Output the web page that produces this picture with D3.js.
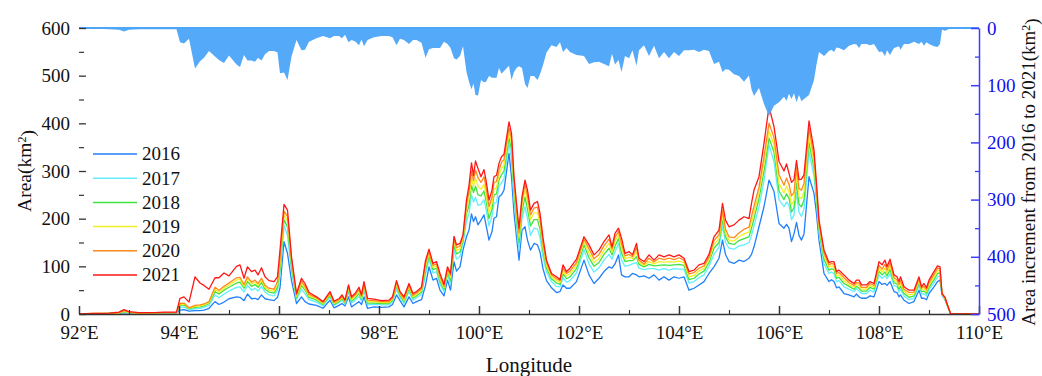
<!DOCTYPE html>
<html>
<head>
<meta charset="utf-8">
<script src="https://cdn.jsdelivr.net/npm/d3@7"></script>
<style>
  body { margin: 0; background: #fff; }
  svg text { font-family: 'Liberation Serif', 'Times New Roman', Times, serif; }
</style>
</head>
<body>
<svg id="chart"></svg>
<script>
const graphWidth = 1042;
const graphHeight = 376;
const serif = "'Liberation Serif', 'Times New Roman', Times, serif";

// Longitude of each sample point (degrees E)
const lon = [
  92.0, 92.3, 92.6, 92.8, 92.9, 93.0, 93.2, 93.5, 93.7, 93.95,
  94.02, 94.1, 94.2, 94.32, 94.42, 94.5, 94.6, 94.72, 94.8, 94.9, 95.0,
  95.15, 95.22, 95.3, 95.37, 95.45, 95.52, 95.58, 95.65, 95.72, 95.8, 95.9, 95.97,
  96.02, 96.1, 96.17, 96.25, 96.35, 96.45, 96.52, 96.6, 96.75, 96.88, 97.02,
  97.1, 97.2, 97.26, 97.32, 97.39, 97.45, 97.52, 97.6, 97.65, 97.7, 97.77, 97.9,
  98.05, 98.2, 98.27, 98.35, 98.42, 98.5, 98.6, 98.68, 98.75, 98.85, 98.93,
  99.0, 99.08, 99.15, 99.22, 99.3, 99.37, 99.43, 99.5, 99.55, 99.62, 99.68, 99.75, 99.8,
  99.85, 99.89, 99.93, 99.98, 100.04, 100.1, 100.14, 100.2, 100.26, 100.3, 100.35, 100.4, 100.45, 100.5,
  100.6, 100.65, 100.7, 100.75, 100.8, 100.86, 100.92, 100.97, 101.03, 101.1, 101.17, 101.22, 101.28,
  101.35, 101.45, 101.55, 101.62, 101.68, 101.75, 101.82, 101.95, 102.1,
  102.2, 102.3, 102.4, 102.5, 102.6, 102.66, 102.72, 102.79, 102.85, 102.92, 103.0,
  103.07, 103.15, 103.2, 103.3, 103.4, 103.5, 103.6, 103.7, 103.8, 103.9, 104.0,
  104.1, 104.2, 104.3, 104.4, 104.5, 104.6, 104.7, 104.8, 104.87, 104.93,
  105.0, 105.1, 105.2, 105.3, 105.4, 105.45, 105.5, 105.6, 105.7, 105.8, 105.9,
  106.0, 106.1, 106.15, 106.2, 106.25, 106.3, 106.35, 106.4, 106.45, 106.5,
  106.6, 106.7, 106.75, 106.8, 106.9, 107.0, 107.05, 107.1, 107.15, 107.2,
  107.3, 107.4, 107.5, 107.55, 107.6, 107.65, 107.75, 107.82, 107.9, 108.0, 108.06,
  108.12, 108.16, 108.22, 108.3, 108.36, 108.4, 108.43, 108.5, 108.6, 108.7, 108.8, 108.85,
  108.9, 108.95, 109.0, 109.1, 109.17, 109.22, 109.26, 109.32, 109.37, 109.43, 109.5, 110.0
];

// Area (km2) per year, same order as lon
const area2016 = [
  0, 0, 0, 1, 3, 2, 1, 1, 2, 2,
  8, 9, 6, 7, 7, 8, 12, 26, 20, 25, 32,
  36, 35, 28, 42, 32, 33, 30, 40, 32, 30, 28, 35,
  55, 152, 127, 70, 22, 36, 26, 21, 18, 12, 29,
  13, 18, 22, 17, 36, 15, 20, 26, 20, 36, 12, 15,
  14, 15, 20, 40, 28, 15, 36, 22, 26, 30, 60,
  99, 71, 75, 50, 38, 71, 50, 110, 90, 99, 134, 162, 176,
  210, 194, 204, 187, 197, 208, 187, 155, 173, 201, 204, 246, 250, 260,
  337, 288, 211, 162, 113, 176, 183, 155, 134, 148, 145, 130, 95,
  70, 55, 45, 47, 61, 54, 54, 68, 113,
  82, 64, 75, 89, 99, 96, 105, 124, 82, 78, 78,
  85, 82, 78, 80, 75, 82, 71, 78, 71, 78, 75,
  78, 50, 54, 61, 68, 85, 99, 117, 155, 125,
  110, 106, 113, 110, 117, 125, 141, 183, 225, 281, 257,
  190, 180, 188, 180, 152, 168, 192, 165, 155, 168,
  288, 253, 210, 155, 85, 68, 72, 68, 55, 57,
  43, 40, 36, 42, 36, 33, 33, 38, 36, 68, 62,
  64, 60, 68, 47, 45, 36, 40, 29, 22, 26, 50, 33,
  33, 30, 43, 57, 68, 71, 40, 30, 16, 1, 0, 0
];
const area2017 = [
  0, 0, 1, 2, 4, 2, 1, 2, 2, 2,
  14, 15, 9, 11, 12, 14, 18, 40, 34, 42, 48,
  56, 57, 46, 60, 50, 54, 48, 58, 46, 40, 38, 50,
  80, 185, 165, 90, 30, 52, 42, 30, 25, 17, 36,
  18, 24, 29, 21, 46, 23, 28, 37, 27, 49, 19, 20,
  19, 19, 26, 52, 35, 22, 47, 29, 34, 41, 82,
  115, 86, 89, 62, 47, 83, 63, 135, 115, 120, 148, 195, 210,
  250, 235, 245, 228, 230, 240, 220, 185, 205, 232, 235, 268, 275, 284,
  358, 325, 240, 185, 135, 200, 225, 200, 165, 180, 178, 160, 120,
  88, 68, 58, 57, 76, 67, 70, 86, 135,
  105, 88, 97, 113, 125, 115, 130, 148, 113, 100, 102,
  105, 108, 96, 93, 95, 95, 92, 95, 92, 95, 94,
  94, 65, 68, 76, 82, 100, 125, 140, 185, 150,
  138, 136, 143, 145, 150, 165, 185, 225, 280, 355, 320,
  240, 225, 235, 228, 198, 208, 255, 213, 205, 220,
  340, 290, 235, 170, 105, 85, 88, 85, 68, 70,
  57, 52, 47, 53, 48, 43, 43, 50, 46, 82, 75,
  80, 74, 85, 60, 57, 46, 52, 38, 30, 33, 60, 42,
  42, 38, 51, 66, 78, 80, 41, 31, 17, 1, 0, 0
];
const area2018 = [
  0, 0, 1, 2, 5, 3, 2, 2, 3, 3,
  18, 19, 11, 14, 15, 17, 22, 47, 42, 50, 56,
  65, 67, 54, 68, 58, 62, 56, 66, 52, 46, 44, 56,
  95, 198, 182, 100, 34, 60, 50, 35, 29, 20, 39,
  20, 26, 32, 23, 51, 27, 33, 43, 31, 56, 23, 23,
  22, 22, 29, 58, 39, 26, 53, 33, 38, 46, 92,
  122, 93, 96, 68, 52, 88, 70, 145, 126, 130, 154, 210, 228,
  270, 255, 268, 250, 248, 258, 238, 200, 220, 250, 252, 282, 292, 300,
  370, 345, 258, 200, 150, 215, 245, 220, 185, 198, 198, 178, 132,
  96, 74, 65, 62, 84, 74, 78, 95, 145,
  118, 100, 108, 125, 138, 124, 142, 158, 128, 110, 112,
  112, 120, 104, 99, 104, 101, 102, 103, 102, 103, 104,
  102, 72, 75, 84, 90, 108, 138, 150, 198, 162,
  148, 146, 154, 158, 162, 180, 200, 242, 300, 369, 340,
  258, 240, 252, 243, 214, 223, 275, 230, 225, 240,
  360, 305, 245, 178, 115, 92, 95, 93, 75, 77,
  64, 58, 52, 58, 54, 48, 48, 56, 52, 90, 82,
  88, 80, 94, 66, 63, 52, 58, 43, 35, 38, 65, 47,
  48, 43, 56, 72, 85, 86, 42, 32, 18, 1, 0, 0
];
const area2019 = [
  0, 1, 1, 2, 6, 3, 2, 2, 3, 3,
  20, 21, 12, 16, 17, 19, 24, 52, 46, 54, 61,
  71, 73, 58, 74, 63, 67, 60, 71, 56, 50, 48, 62,
  105, 208, 195, 108, 37, 65, 54, 38, 32, 22, 42,
  22, 28, 35, 25, 55, 30, 37, 47, 34, 60, 26, 26,
  24, 24, 31, 62, 42, 29, 57, 36, 41, 50, 100,
  127, 98, 101, 73, 55, 92, 76, 152, 133, 137, 158, 220, 242,
  285, 268, 285, 268, 262, 272, 252, 212, 232, 262, 265, 292, 305, 312,
  380, 358, 268, 212, 160, 228, 260, 235, 198, 212, 212, 190, 140,
  102, 78, 70, 66, 90, 80, 84, 102, 152,
  128, 108, 116, 134, 148, 130, 152, 166, 138, 116, 119,
  116, 130, 109, 102, 110, 105, 110, 109, 110, 109, 111,
  108, 78, 81, 90, 96, 114, 146, 158, 208, 170,
  155, 153, 162, 168, 172, 192, 212, 255, 315, 385, 355,
  274, 254, 268, 257, 230, 238, 292, 246, 242, 257,
  375, 318, 255, 184, 122, 98, 101, 99, 80, 82,
  70, 62, 56, 62, 60, 52, 52, 60, 56, 96, 88,
  96, 86, 101, 71, 68, 57, 64, 48, 40, 42, 70, 51,
  53, 47, 61, 78, 91, 91, 42, 33, 18, 1, 0, 0
];
const area2020 = [
  0, 1, 1, 3, 7, 4, 2, 3, 3, 3,
  22, 23, 13, 18, 19, 21, 26, 56, 50, 58, 65,
  76, 77, 62, 78, 67, 71, 64, 75, 60, 54, 52, 68,
  115, 216, 205, 114, 40, 70, 58, 41, 34, 24, 44,
  24, 30, 37, 27, 58, 33, 40, 51, 37, 64, 29, 28,
  26, 26, 33, 66, 44, 32, 60, 39, 44, 53, 106,
  131, 102, 105, 78, 58, 95, 81, 158, 139, 143, 162, 230, 256,
  300, 280, 302, 286, 276, 288, 266, 225, 245, 276, 278, 302, 318, 324,
  390, 368, 278, 222, 170, 238, 272, 248, 208, 222, 224, 200, 148,
  108, 82, 74, 70, 96, 85, 90, 108, 157,
  137, 116, 125, 143, 157, 136, 161, 173, 148, 122, 125,
  120, 139, 113, 105, 117, 109, 117, 114, 117, 114, 118,
  113, 84, 87, 96, 101, 119, 154, 166, 218, 178,
  162, 160, 170, 178, 182, 205, 226, 266, 330, 400, 370,
  292, 270, 285, 272, 248, 255, 307, 263, 260, 274,
  390, 330, 265, 190, 128, 103, 106, 104, 85, 87,
  76, 66, 60, 66, 65, 56, 56, 64, 60, 102, 94,
  104, 92, 108, 76, 72, 62, 70, 52, 45, 46, 74, 54,
  58, 51, 66, 83, 96, 95, 43, 34, 19, 1, 0, 0
];
const area2021 = [
  0, 1, 2, 4, 9, 5, 3, 3, 4, 4,
  33, 36, 25, 78, 65, 60, 52, 76, 76, 86, 80,
  100, 103, 75, 99, 89, 92, 82, 97, 78, 70, 68, 78,
  134, 230, 218, 120, 43, 75, 64, 45, 36, 26, 47,
  27, 32, 40, 29, 61, 36, 43, 56, 40, 68, 33, 31,
  28, 29, 36, 70, 47, 36, 64, 43, 47, 56, 112,
  136, 106, 110, 85, 62, 99, 85, 163, 145, 148, 166, 239, 270,
  317, 291, 321, 305, 288, 303, 281, 239, 260, 288, 291, 316, 330, 335,
  403, 379, 288, 232, 180, 246, 281, 260, 218, 232, 236, 211, 160,
  113, 85, 78, 72, 103, 89, 96, 115, 162,
  145, 124, 134, 152, 166, 141, 169, 180, 159, 127, 131,
  124, 148, 117, 110, 124, 113, 124, 120, 124, 120, 124,
  117, 89, 92, 103, 106, 125, 162, 176, 232, 197,
  183, 187, 197, 204, 200, 232, 260, 288, 358, 435, 393,
  320, 300, 315, 295, 276, 282, 322, 282, 283, 292,
  405, 344, 274, 197, 134, 108, 110, 110, 89, 92,
  82, 71, 64, 71, 71, 61, 61, 68, 64, 110, 103,
  113, 99, 115, 82, 78, 68, 78, 57, 50, 50, 78, 57,
  64, 55, 71, 89, 101, 99, 43, 35, 19, 1, 0, 0
];

const years = ['2016', '2017', '2018', '2019', '2020', '2021'];
const series = [area2016, area2017, area2018, area2019, area2020, area2021];
const colors = ['#2180fb', '#62eefc', '#3fe33f', '#f2ef24', '#ff8a1c', '#ff1616'];

const xTicks = [92, 94, 96, 98, 100, 102, 104, 106, 108, 110];
const xMinorTicks = [93, 95, 97, 99, 101, 103, 105, 107, 109];
const leftTicks = [0, 100, 200, 300, 400, 500, 600];
const leftMinorTicks = [50, 150, 250, 350, 450, 550];
const rightTicks = [0, 100, 200, 300, 400, 500];
const rightMinorTicks = [50, 150, 250, 350, 450];

const margin = { left: 79, right: 63, top: 28, bottom: 62 };
const axisBlue = '#3d3dff';
const textBlue = '#1010f0';

const svg = d3
  .select('#chart')
  .attr('width', graphWidth)
  .attr('height', graphHeight)
  .attr('font-family', serif);

svg.append('rect')
  .attr('width', graphWidth)
  .attr('height', graphHeight)
  .attr('fill', '#fff');

const x = d3.scaleLinear().domain([92, 110]).range([margin.left, graphWidth - margin.right]);
const y = d3.scaleLinear().domain([0, 600]).range([graphHeight - margin.bottom, margin.top]);
const y2 = d3.scaleLinear().domain([0, 500]).range([margin.top, graphHeight - margin.bottom]);

//Lines for each year
const line = d3.line()
  .x((d, i) => x(lon[i]))
  .y(d => y(d));

svg.append('g')
  .attr('class', 'lines')
  .selectAll('path')
  .data(series)
  .enter()
  .append('path')
  .attr('d', line)
  .attr('fill', 'none')
  .attr('stroke', (d, i) => colors[i])
  .attr('stroke-width', 1.3)
  .attr('stroke-linejoin', 'round');

//Increment from 2016 to 2021, hanging from the top on the right axis
const increment = area2021.map((v, i) => v - area2016[i]);
const area = d3.area()
  .x((d, i) => x(lon[i]))
  .y0(y2(0))
  .y1(d => y2(d));

svg.append('path')
  .datum(increment)
  .attr('d', area)
  .attr('fill', '#4ea6f8')
  .attr('fill-opacity', 0.97);

svg.append('line')
  .attr('x1', x(92))
  .attr('x2', x(110))
  .attr('y1', y2(0))
  .attr('y2', y2(0))
  .attr('stroke', '#4ea6f8')
  .attr('stroke-width', 2);

function styleText(g, size, color) {
  g.attr('font-family', serif);
  g.selectAll('text')
    .style('font-family', serif)
    .style('font-size', size)
    .attr('fill', color);
}

//Bottom axis
const bottom = svg.append('g')
  .attr('transform', 'translate(0,' + y(0) + ')')
  .call(d3.axisBottom(x)
    .tickValues(xTicks)
    .tickFormat(d => d + '°E')
    .tickSizeInner(-8)
    .tickSizeOuter(0)
    .tickPadding(12));
bottom.select('.domain').attr('stroke', '#333').attr('stroke-width', 1.5);
bottom.selectAll('.tick line').attr('stroke', '#333').attr('stroke-width', 1.5);
styleText(bottom, '19px', '#111');

const bottomMinor = svg.append('g')
  .attr('transform', 'translate(0,' + y(0) + ')')
  .call(d3.axisBottom(x).tickValues(xMinorTicks).tickFormat('').tickSizeInner(-4).tickSizeOuter(0));
bottomMinor.select('.domain').remove();
bottomMinor.selectAll('.tick line').attr('stroke', '#333').attr('stroke-width', 1.2);

//Left axis
const left = svg.append('g')
  .attr('transform', 'translate(' + x(92) + ',0)')
  .call(d3.axisLeft(y).tickValues(leftTicks).tickSizeInner(-7).tickSizeOuter(0).tickPadding(9));
left.select('.domain').remove();
left.selectAll('.tick line').attr('stroke', '#333').attr('stroke-width', 1.3);
styleText(left, '19px', '#111');

const leftMinor = svg.append('g')
  .attr('transform', 'translate(' + x(92) + ',0)')
  .call(d3.axisLeft(y).tickValues(leftMinorTicks).tickFormat('').tickSizeInner(-5).tickSizeOuter(0));
leftMinor.select('.domain').remove();
leftMinor.selectAll('.tick line').attr('stroke', '#333').attr('stroke-width', 1.2);

//Right axis (blue)
const right = svg.append('g')
  .attr('transform', 'translate(' + x(110) + ',0)')
  .call(d3.axisRight(y2).tickValues(rightTicks).tickSizeInner(-8).tickSizeOuter(0).tickPadding(8));
right.select('.domain').attr('stroke', axisBlue).attr('stroke-width', 1.5);
right.selectAll('.tick line').attr('stroke', axisBlue).attr('stroke-width', 1.5);
styleText(right, '19px', textBlue);

const rightMinor = svg.append('g')
  .attr('transform', 'translate(' + x(110) + ',0)')
  .call(d3.axisRight(y2).tickValues(rightMinorTicks).tickFormat('').tickSizeInner(-4).tickSizeOuter(0));
rightMinor.select('.domain').remove();
rightMinor.selectAll('.tick line').attr('stroke', axisBlue).attr('stroke-width', 1.3);

//Axis titles
const yTitle = svg.append('text')
  .attr('transform', 'translate(31,' + (margin.top + graphHeight - margin.bottom) / 2 + ') rotate(-90)')
  .attr('text-anchor', 'middle')
  .style('font-size', '19.5px')
  .attr('fill', '#111');
yTitle.append('tspan').text('Area(km');
yTitle.append('tspan').text('2').attr('dy', '-0.45em').style('font-size', '12px');
yTitle.append('tspan').text(')').attr('dy', '0.45em');

const y2Title = svg.append('text')
  .attr('transform', 'translate(1035,172) rotate(-90)')
  .attr('text-anchor', 'middle')
  .style('font-size', '19px')
  .attr('fill', '#111');
y2Title.append('tspan').text('Area increment from 2016 to 2021(km');
y2Title.append('tspan').text('2').attr('dy', '-0.45em').style('font-size', '12px');
y2Title.append('tspan').text(')').attr('dy', '0.45em');

svg.append('text')
  .attr('x', (x(92) + x(110)) / 2)
  .attr('y', 372)
  .attr('text-anchor', 'middle')
  .style('font-size', '21px')
  .attr('fill', '#111')
  .text('Longitude');

//Legend
const legend = svg.append('g')
  .attr('class', 'legend')
  .selectAll('g')
  .data(years)
  .enter()
  .append('g')
  .attr('transform', (d, i) => 'translate(93,' + (154 + i * 24.2) + ')');

legend.append('line')
  .attr('x1', 0)
  .attr('x2', 44)
  .attr('stroke', (d, i) => colors[i])
  .attr('stroke-width', 1.5);

legend.append('text')
  .attr('x', 49)
  .attr('dy', '0.34em')
  .style('font-size', '19px')
  .attr('fill', '#111')
  .text(d => d);
</script>
</body>
</html>
